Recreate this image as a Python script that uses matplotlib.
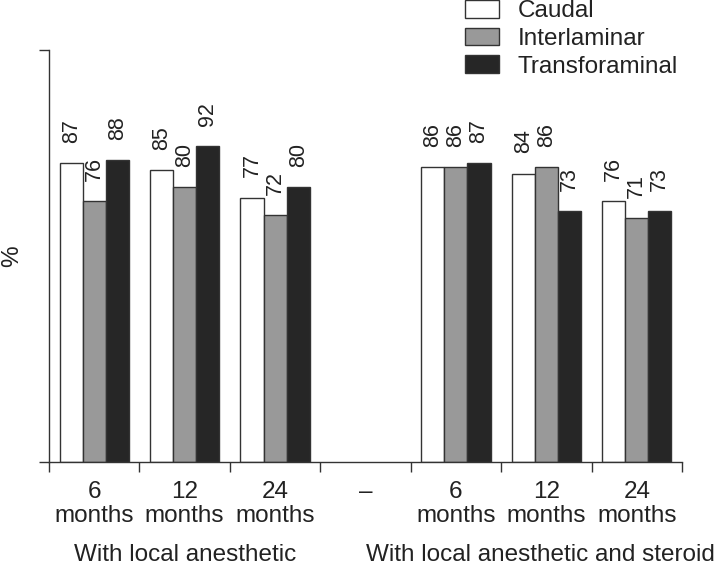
import matplotlib
matplotlib.use("Agg")
import matplotlib.pyplot as plt
import numpy as np

plt.rcParams['font.family'] = ['Liberation Sans', 'DejaVu Sans']

# data
series = ["Caudal", "Interlaminar", "Transforaminal"]
slot_labels = ["6\nmonths", "12\nmonths", "24\nmonths", "\u2013",
               "6\nmonths", "12\nmonths", "24\nmonths"]
caudal = [87, 85, 77, None, 86, 84, 76]
interlaminar = [76, 80, 72, None, 86, 86, 71]
transforaminal = [88, 92, 80, None, 87, 73, 73]
group_labels = ["With local anesthetic", "With local anesthetic and steroid"]

colors = ["white", "#999999", "#262626"]
text_col = "#222222"

fig = plt.figure(figsize=(7.17, 5.65), dpi=100)
ax = fig.add_axes([49 / 717, 103 / 565, 633 / 717, 412 / 565])

width = 0.255
offsets = [-width, 0, width]
for vals, off, col, name in zip([caudal, interlaminar, transforaminal],
                                offsets, colors, series):
    xs = [i + 0.5 + off for i, v in enumerate(vals) if v is not None]
    hs = [v for v in vals if v is not None]
    ax.bar(xs, hs, width=width, color=col, edgecolor="#333333",
           linewidth=1.0, label=name)
    for x, h in zip(xs, hs):
        ax.annotate(str(h), (x, h), xytext=(0, 14.5), textcoords="offset points",
                    rotation=90, ha="center", va="bottom", fontsize=15.5,
                    color=text_col)

ax.set_xlim(0, 7)
ax.set_ylim(0, 120)
for s in ["top", "right"]:
    ax.spines[s].set_visible(False)
for s in ["left", "bottom"]:
    ax.spines[s].set_color("#333333")
    ax.spines[s].set_linewidth(1.0)

ax.set_yticks([0, 120])
ax.set_yticklabels([])
ax.set_xticks(np.arange(8))
ax.set_xticklabels([])
ax.set_xticks(np.arange(7) + 0.5, minor=True)
ax.set_xticklabels(slot_labels, minor=True, fontsize=17.5, color=text_col,
                   linespacing=1.1)
ax.tick_params(axis="both", which="major", direction="out", length=7,
               width=1.0, color="#333333")
ax.tick_params(axis="x", which="minor", length=0, pad=14)

ax.set_ylabel("%", fontsize=17.5, color=text_col, labelpad=8)

# group captions under the month labels (second one nudged left to fit)
for gx, txt in zip([1.5, 5.43], group_labels):
    ax.text(gx, -0.226, txt, transform=ax.get_xaxis_transform(),
            ha="center", va="center", fontsize=17.5, color=text_col)

fig.legend(loc="upper left", bbox_to_anchor=(465 / 717, 1.0),
           frameon=False, fontsize=17.5, borderpad=0.0, borderaxespad=0.0,
           handlelength=1.4, handleheight=0.74, handletextpad=0.75,
           labelspacing=0.22, labelcolor=text_col)

fig.savefig("out.png", dpi=100, facecolor="white")
